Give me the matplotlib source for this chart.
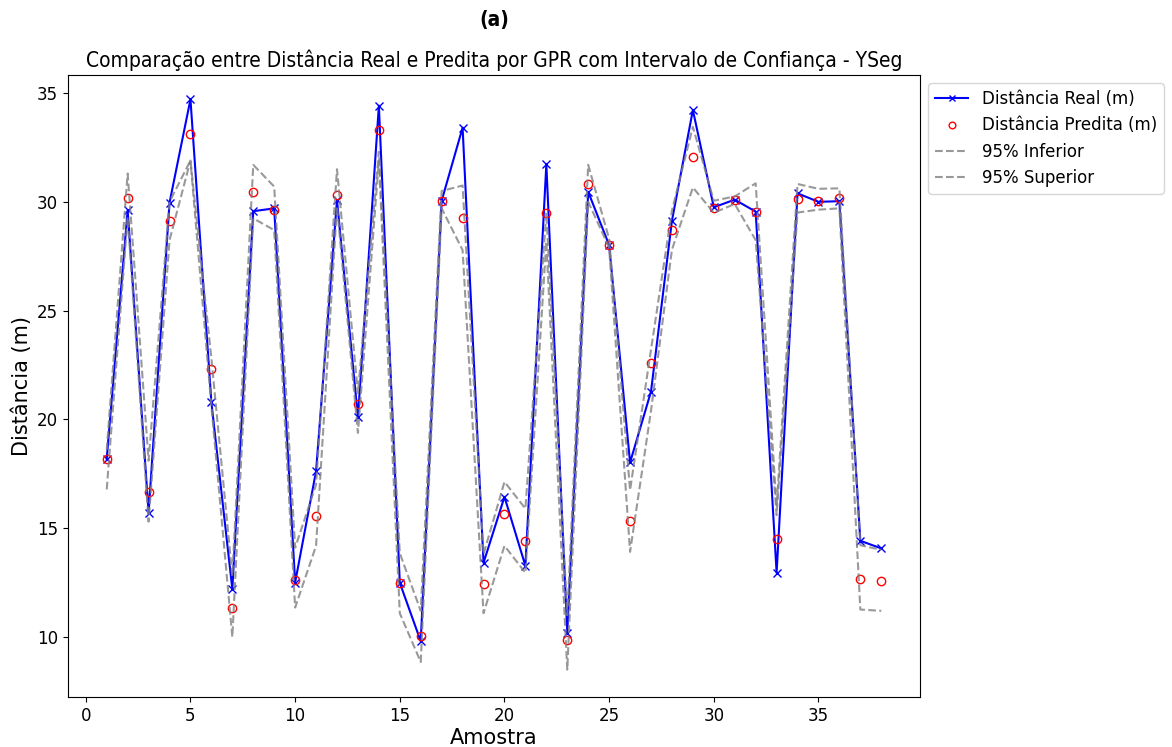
import numpy as np
import matplotlib
matplotlib.use("Agg")
import matplotlib.pyplot as plt

# GPR results per sample (YSeg)
amostra = np.arange(1, 39)
dist_real = [18.19, 29.62, 15.72, 29.96, 34.71, 20.78, 12.20, 29.57, 29.70, 12.50,
             17.62, 30.08, 20.09, 34.42, 12.49, 9.80, 30.05, 33.41, 13.41, 16.44,
             13.27, 31.72, 10.20, 30.46, 28.01, 18.02, 21.28, 29.13, 34.22, 29.75,
             30.10, 29.55, 12.95, 30.39, 30.00, 30.03, 14.42, 14.07]
dist_pred = [18.19, 30.16, 16.67, 29.13, 33.10, 22.30, 11.34, 30.46, 29.62, 12.61,
             15.58, 30.31, 20.73, 33.30, 12.49, 10.03, 30.05, 29.24, 12.43, 15.66,
             14.40, 29.47, 9.88, 30.80, 28.01, 15.32, 22.60, 28.70, 32.04, 29.70,
             30.08, 29.54, 14.51, 30.11, 30.05, 30.16, 12.66, 12.56]
ic_inf = [16.78, 29.30, 15.30, 28.24, 31.90, 20.60, 10.00, 29.24, 28.70, 11.35,
          14.19, 29.80, 19.38, 31.90, 11.09, 8.85, 29.70, 27.78, 11.09, 14.19,
          12.95, 28.17, 8.50, 30.00, 27.90, 13.91, 20.40, 27.80, 30.66, 29.50,
          29.90, 28.24, 15.60, 29.51, 29.64, 29.70, 11.26, 11.20]
ic_sup = [18.60, 31.30, 18.10, 30.00, 31.90, 22.80, 12.80, 31.70, 30.70, 14.10,
          17.00, 31.50, 21.20, 32.30, 13.85, 11.20, 30.50, 30.75, 13.80, 17.13,
          15.90, 29.50, 11.00, 31.70, 28.30, 16.75, 23.20, 29.60, 33.45, 30.05,
          30.25, 30.85, 16.00, 30.82, 30.60, 30.62, 14.22, 14.00]

fig = plt.figure(figsize=(11.72, 7.47), dpi=100)
ax = fig.add_axes([68 / 1172, 1 - 697 / 747, 852 / 1172, 622 / 747])

ax.plot(amostra, dist_real, color='blue', marker='x', lw=1.5, ms=6,
        label='Distância Real (m)')
ax.plot(amostra, dist_pred, ls='', marker='o', mfc='none', mec='red', ms=6,
        label='Distância Predita (m)')
ax.plot(amostra, ic_inf, ls='--', color='gray', alpha=0.8, lw=1.5,
        label='95% Inferior')
ax.plot(amostra, ic_sup, ls='--', color='gray', alpha=0.8, lw=1.5,
        label='95% Superior')

ax.set_ylim(7.24, 35.83)
ax.set_xlabel('Amostra', fontsize=15, labelpad=2)
ax.set_ylabel('Distância (m)', fontsize=15)
ax.set_title('Comparação entre Distância Real e Predita por GPR com Intervalo de Confiança - YSeg',
             fontsize=15, family='DejaVu Sans', stretch='condensed')
ax.tick_params(labelsize=12)
ax.legend(loc='upper left', bbox_to_anchor=(1.0, 1.0), fontsize=12,
          markerscale=0.8)

fig.text(494 / 1172, 1 - 20 / 747, '(a)', ha='center', va='center',
         fontsize=15, fontweight='bold', family='DejaVu Sans', stretch='condensed')

fig.savefig('out.png', dpi=100)
